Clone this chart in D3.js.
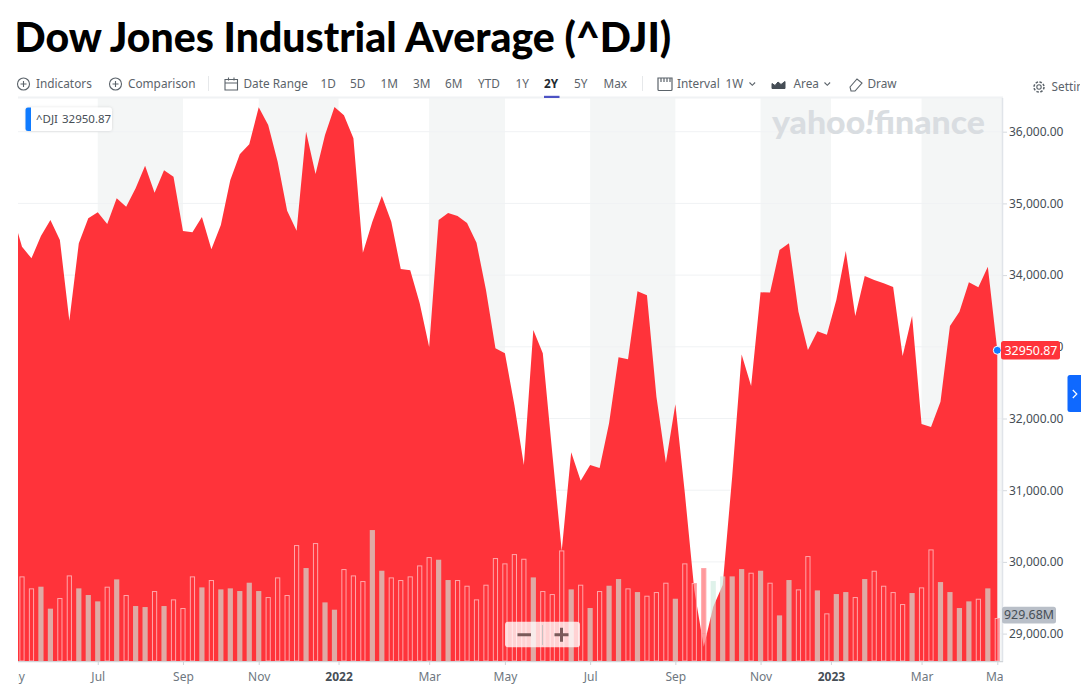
<!DOCTYPE html>
<html><head><meta charset="utf-8">
<script src="https://cdn.jsdelivr.net/npm/d3@7/dist/d3.min.js"></script>
<style>
html,body{margin:0;padding:0;background:#fff;overflow:hidden}
svg{display:block}
text{font-family:"Noto Sans",sans-serif}
</style></head><body>
<svg id="c" width="1082" height="688"></svg>
<script>
const chartTitle = "Dow Jones Industrial Average (^DJI)";
const firstWeek = "2021-05-03";
const lastLabel = "32950.87";
const closes = [34852,34396,34234,34545,34768,34490,33364,34443,34792,34876,34713,35071,34954,35210,35526,35149,35462,35372,34615,34597,34810,34360,34699,35326,35685,35824,36340,36093,35582,34898,34619,36000,35410,35954,36344,36229,35908,34312,34745,35103,34745,34085,34067,33607,32997,34768,34866,34824,34727,34452,33792,32979,32909,32188,31351,33234,32909,31519,30156,31529,31133,31351,31310,31933,32854,32826,33774,33718,32304,31384,32198,30961,29608,28817,29375,29678,31188,32893,32453,33760,33757,34350,34443,33490,32955,33216,33169,33653,34336,33430,33987,33932,33886,33834,32872,33430,31923,31881,32234,33290,33490,33900,33830,34117,32950.87];
const volumes = [1829,1570,1606,1131,1361,1850,1570,1426,1289,1606,1764,1426,1188,1166,1512,1188,1332,1145,1829,1591,1750,1548,1570,1512,1692,1512,1382,1807,1426,2506,2009,2549,1267,1109,1987,1850,1728,2830,1951,1807,1750,1829,2066,2246,2189,1750,1750,1627,1332,1649,2225,2110,2311,2210,1807,1512,1447,2390,1548,1649,1145,1512,1627,1771,1570,1490,1411,1490,1692,1346,2110,1685,2009,1728,1829,1829,1987,1908,1951,1692,986,1750,1548,2268,1526,1030,1447,1490,1382,1771,1951,1627,1490,1231,1469,1591,2412,1706,1490,1145,1289,1346,1570,929.68];
const priceTicks = [29000,30000,31000,32000,33000,34000,35000,36000];
const monthTicks = ["2021-05-03","2021-07-05","2021-09-06","2021-11-01","2021-12-30","2022-03-07","2022-05-02","2022-07-04","2022-09-05","2022-11-07","2022-12-29","2023-03-06","2023-05-01"];
const monthLabels = ["May","Jul","Sep","Nov","2022","Mar","May","Jul","Sep","Nov","2023","Mar","May"];
const yearLabels = ["2022","2023"];
const rangeButtons = ["1D","5D","1M","3M","6M","YTD","1Y","2Y","5Y","Max"];
const rangeLefts = [320.5,350,380.5,413,445,478,515.5,544,574,603.5];

const parse = d3.timeParse("%Y-%m-%d");
const svg = d3.select("#c");
const L=18, R=1002, T=98, B=661;
const dates = closes.map((_,i)=>d3.timeDay.offset(parse(firstWeek), i*7));
const x = d3.scaleTime().domain([dates[1],dates[dates.length-1]]).range([22,997.3]);
const y = d3.scaleLinear().domain([29000,36000]).range([633.6,131.7]);
const v = d3.scaleLinear().domain([0,3000]).range([B,B-138.8]);
const tickDates = monthTicks.map(parse);

const defs = svg.append("defs");
defs.append("clipPath").attr("id","plot").append("rect").attr("x",L).attr("y",T).attr("width",R-L).attr("height",B-T);
defs.append("clipPath").attr("id","page").append("rect").attr("x",0).attr("y",0).attr("width",1080).attr("height",688);
const sh = defs.append("filter").attr("id","sh").attr("x","-20%").attr("y","-30%").attr("width","140%").attr("height","160%");
sh.append("feDropShadow").attr("dx",0).attr("dy",0).attr("stdDeviation",1.5).attr("flood-color","#000").attr("flood-opacity",.14);

// title
svg.append("text").attr("x",14.5).attr("y",51.5).text(chartTitle)
  .style("font-family","Lato").style("font-weight",900).style("font-size","41px").attr("fill","#000");

// alternating month bands
const bandPairs = [[1,2],[3,4],[5,6],[7,8],[9,10],[11,12]];
svg.append("g").selectAll("rect").data(bandPairs).join("rect")
  .attr("x",d=>x(tickDates[d[0]])).attr("y",T)
  .attr("width",d=>(d[1]===tickDates.length-1?R:x(tickDates[d[1]]))-x(tickDates[d[0]])).attr("height",B-T)
  .attr("fill","#f4f6f6");

// grid
svg.append("g").selectAll("line").data(priceTicks).join("line")
  .attr("x1",L).attr("x2",R).attr("y1",d=>y(d)).attr("y2",d=>y(d))
  .attr("stroke","#f0f2f4").attr("stroke-width",1);

// watermark
const wm = svg.append("text").attr("x",772).attr("y",134)
  .attr("textLength",213).attr("lengthAdjust","spacingAndGlyphs")
  .style("font-family","Lato").style("font-weight",900).style("font-size","32px").attr("fill","#d9dde1");
wm.append("tspan").text("yahoo");
wm.append("tspan").text("!").style("font-style","italic");
wm.append("tspan").text("finance");

// area
const area = d3.area().x((d,i)=>x(dates[i])).y0(B).y1(d=>y(d));
svg.append("path").datum(closes).attr("d",area).attr("fill","#ff333a").attr("clip-path","url(#plot)");

// volume
const bars = volumes.map((vol,i)=>({vol,date:dates[i+1],up:closes[i+1]>=closes[i]}));
svg.append("g").attr("clip-path","url(#plot)").selectAll("rect").data(bars).join("rect")
  .attr("x",d=>x(d.date)-(d.up?2.6:2.1)).attr("width",d=>d.up?5.2:4.2)
  .attr("y",d=>v(d.vol)+(d.up?0:.5)).attr("height",d=>B-v(d.vol)-(d.up?0:.5))
  .attr("fill",d=>d.up?"rgba(206,235,223,.65)":"rgba(255,51,58,.5)")
  .attr("stroke",d=>d.up?"none":"#ffa6aa").attr("stroke-width",1);

// frame
svg.append("line").attr("x1",18).attr("x2",R+1).attr("y1",T-.5).attr("y2",T-.5).attr("stroke","#f0f2f4").attr("stroke-width",2);
svg.append("line").attr("x1",R+.5).attr("x2",R+.5).attr("y1",T).attr("y2",B+1).attr("stroke","#e0e4e9").attr("stroke-width",1.5);

// axes
const ax = svg.append("g").attr("transform",`translate(${R+1},0)`)
  .call(d3.axisRight(y).tickValues(priceTicks).tickSize(4).tickPadding(2).tickFormat(d=>d3.format(",.2f")(d)));
ax.select(".domain").remove();
ax.selectAll("line").attr("stroke","#d5d9de");
ax.selectAll("text").attr("fill","#464e56").style("font-family",'"Noto Sans"').style("font-size","12px");

defs.append("clipPath").attr("id","xclipb").append("rect").attr("x",L).attr("y",0).attr("width",R-L+1).attr("height",27);
const bx = svg.append("g").attr("transform",`translate(0,${B})`).attr("clip-path","url(#xclipb)");
bx.call(d3.axisBottom(x).tickValues(tickDates).tickSize(4).tickPadding(7).tickFormat((d,i)=>monthLabels[i]));
bx.select(".domain").attr("stroke","#d0d4d8").attr("stroke-width",1.5).attr("d",`M${L},0.5H${R+1}`);
bx.selectAll("line").attr("stroke","#d0d4d8");
bx.selectAll("text").attr("fill",d=>yearLabels.includes(monthLabels[tickDates.indexOf(d)])?"#464e56":"#6e7780")
  .style("font-family",'"Noto Sans"').style("font-size","12px")
  .style("font-weight",d=>yearLabels.includes(monthLabels[tickDates.indexOf(d)])?700:400);

// legend chip
const chip = svg.append("g");
chip.append("rect").attr("x",26).attr("y",107.5).attr("width",86).attr("height",23.5).attr("rx",3).attr("fill","#fff").attr("filter","url(#sh)");
chip.append("path").attr("d","M31 107.500h-3a2.500 2.500 0 0 0-2.500 2.500v18.500a2.500 2.500 0 0 0 2.500 2.500h3z").attr("fill","#0f7bff");
chip.append("text").attr("x",36).attr("y",123).text("^DJI").attr("fill","#464e56").style("font-size","11.5px");
chip.append("text").attr("x",62).attr("y",123).text(lastLabel).attr("fill","#464e56").style("font-size","11.5px");

// current value
const lastY = y(closes[closes.length-1]);
svg.append("circle").attr("cx",x(dates[dates.length-1])).attr("cy",lastY).attr("r",4).attr("fill","#0f7bff").attr("stroke","#fff").attr("stroke-width",1);
svg.append("rect").attr("x",1001).attr("y",lastY-9.2).attr("width",59).attr("height",18.4).attr("rx",2.5).attr("fill","#ff333a");
svg.append("text").attr("x",1004.5).attr("y",lastY+4.3).text(lastLabel).attr("fill","#fff").style("font-size","12.4px");

// volume tag
svg.append("rect").attr("x",1002).attr("y",606.8).attr("width",54).attr("height",16.6).attr("rx",2.5).attr("fill","#b9bfc8");
svg.append("text").attr("x",1004).attr("y",619.3).text("929.68M").attr("fill","#464e56").style("font-size","12.4px");

// zoom control
const z = svg.append("g");
z.append("rect").attr("x",505).attr("y",621.7).attr("width",75).attr("height",25.6).attr("rx",3).attr("fill","#fff").attr("fill-opacity",.78);
z.append("line").attr("x1",542.5).attr("x2",542.5).attr("y1",625).attr("y2",645).attr("stroke","#c8c2c2");
z.append("path").attr("d","M517.500 634.800H531M554.500 634.800H568.500M561.500 627.800V641.800").attr("stroke","#7a5a5a").attr("stroke-width",3).attr("fill","none");

// side tab
svg.append("path").attr("d","M1081 375h-11a2.500 2.500 0 0 0-2.500 2.500v32a2.500 2.500 0 0 0 2.500 2.500h11z").attr("fill","#0f69ff");
svg.append("path").attr("d","M1072.800 390l4 4-4 4").attr("stroke","#fff").attr("stroke-width",1.2).attr("fill","none");

// toolbar
const bar = svg.append("g").attr("clip-path","url(#page)");
const ink = "#5b636a";
const label = (t,xp,yp=87.5,col=ink,w=400)=>bar.append("text").attr("x",xp).attr("y",yp).text(t).attr("fill",col).style("font-size","11.8px").style("font-weight",w);
const icon = (d,w=1.1,col=ink,fill="none")=>bar.append("path").attr("d",d).attr("stroke",col).attr("stroke-width",w).attr("fill",fill);
[23.5,115.5].forEach(cx=>{
  bar.append("circle").attr("cx",cx).attr("cy",84).attr("r",6).attr("fill","none").attr("stroke",ink).attr("stroke-width",1.1);
  icon(`M${cx-3} 84H${cx+3}M${cx} 81V87`);
});
label("Indicators",36); label("Comparison",128);
bar.append("line").attr("x1",208.500).attr("x2",208.500).attr("y1",76).attr("y2",91).attr("stroke","#e6e8ea");
bar.append("line").attr("x1",642.500).attr("x2",642.500).attr("y1",76).attr("y2",91).attr("stroke","#e6e8ea");
icon("M225 79.500h12.500v10.500h-12.500zM225 83h12.500M228.500 77.500v3M234 77.500v3");
label("Date Range",243.5);
rangeButtons.forEach((t,i)=>label(t,rangeLefts[i],87.5,t==="2Y"?"#232a31":ink,t==="2Y"?700:400));
bar.append("rect").attr("x",544).attr("y",95.800).attr("width",15.500).attr("height",2.200).attr("fill","#4c52c4");
icon("M658 78h14v11.500a1 1 0 0 1-1 1h-12a1 1 0 0 1-1-1zM661 78v4M664 78v4M667 78v4M670 78v4",1.2);
label("Interval",677); label("1W",725.5);
icon("M749.500 82.500l2.800 2.800 2.800-2.800"); icon("M824.500 82.500l2.800 2.800 2.800-2.800");
icon("M772 88.500v-5l3 2 3-3.500 3 2.500 4-3v7z",1,"#464e56","#464e56");
label("Area",793.5);
icon("M850 87l7-8 5 4-7 8h-4z",1.1);
label("Draw",867.5);
bar.append("circle").attr("cx",1039).attr("cy",87).attr("r",2.200).attr("fill","none").attr("stroke",ink).attr("stroke-width",1.1);
bar.append("circle").attr("cx",1039).attr("cy",87).attr("r",5).attr("fill","none").attr("stroke",ink).attr("stroke-width",1.500).attr("stroke-dasharray","2.500 1.400");
label("Settings",1051.5,91);
</script>
</body></html>
